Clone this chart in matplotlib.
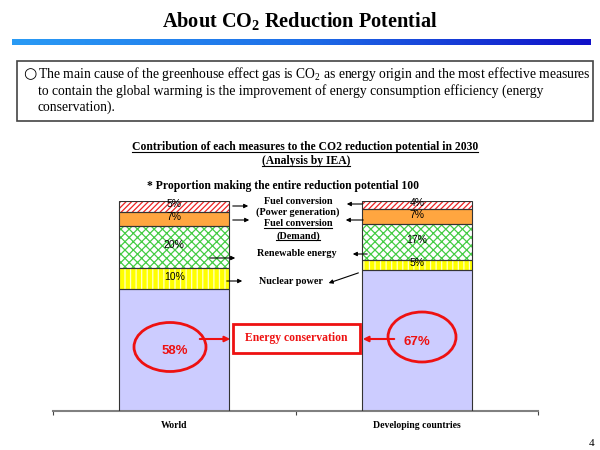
import matplotlib.pyplot as plt
import numpy as np
from matplotlib.patches import Rectangle, Ellipse
from matplotlib.lines import Line2D
from matplotlib.colors import LinearSegmentedColormap

plt.rcParams['font.family'] = ['Liberation Serif', 'DejaVu Serif']
plt.rcParams['mathtext.fontset'] = 'custom'
plt.rcParams['mathtext.rm'] = 'Liberation Serif'
plt.rcParams['mathtext.bf'] = 'Liberation Serif:bold'
plt.rcParams['hatch.linewidth'] = 0.9

categories = ["World", "Developing countries"]
measures = ["Energy conservation", "Nuclear power", "Renewable energy",
            "Fuel conversion (Demand)", "Fuel conversion (Power generation)"]
world = [58, 10, 20, 7, 5]
developing = [67, 5, 17, 7, 4]

# fill, hatch colour, hatch for each measure
styles = [("#CCCCFF", "#CCCCFF", ""),
          ("#FFFF00", "#FFFFC8", "|||"),
          ("white", "#44CC44", "xxxx"),
          ("#FFA640", "#FFA640", ""),
          ("white", "#EE2222", "//////")]

fig = plt.figure(figsize=(6, 4.5), dpi=100)

# bar chart axes
ax = fig.add_axes([53 / 600, 1 - 411 / 450, 485 / 600, 210 / 450])
x = np.arange(len(categories))
width = 0.455
data = np.array([world, developing]).T
bottom = np.zeros(len(categories))
for i, vals in enumerate(data):
    face, hcol, hatch = styles[i]
    ax.bar(x, vals, width, bottom=bottom, color=face, edgecolor=hcol,
           hatch=hatch, linewidth=0, zorder=2)
    ax.bar(x, vals, width, bottom=bottom, fill=False, edgecolor="#333333",
           linewidth=0.8, zorder=3)
    if i > 0:
        for xi, v, b in zip(x, vals, bottom):
            ax.text(xi, b + v / 2 + 1, f"{v}%", ha="center", va="center",
                    fontsize=7.5, family="Liberation Sans", zorder=4)
    bottom += vals

ax.set_xlim(-0.5, 1.5)
ax.set_ylim(0, 100)
for s in ["top", "right", "left"]:
    ax.spines[s].set_visible(False)
ax.spines["bottom"].set_color("#808080")
ax.spines["bottom"].set_linewidth(1.5)
ax.set_yticks([])
ax.set_xticks([-0.5, 0.5, 1.5])
ax.set_xticklabels([])
ax.tick_params(axis="x", length=3, direction="out", color="#444444")
for xi, c in zip(x, categories):
    ax.text(xi, -7, c, ha="center", va="center", fontsize=7,
            fontweight="bold", clip_on=False)

# overlay in pixel coordinates
ov = fig.add_axes([0, 0, 1, 1], zorder=5)
ov.patch.set_alpha(0)

# title and gradient rule
ov.text(300, 22, r"About CO$_\mathbf{2}$ Reduction Potential", ha="center",
        va="center", fontsize=14.6, fontweight="bold")
grad = np.linspace(0, 1, 256).reshape(1, -1)
cmap = LinearSegmentedColormap.from_list("b", ["#2A9BF5", "#1E6FE8", "#1010C8"])
ov.imshow(grad, extent=[12, 591, 45, 39], aspect="auto", cmap=cmap, zorder=1)
ov.set_xlim(0, 600)
ov.set_ylim(450, 0)
ov.axis("off")

# text box
ov.add_patch(Rectangle((17, 61), 576, 60, fill=False, edgecolor="#444444",
                       linewidth=1.2))
ov.text(23, 74, "○", ha="left", va="center", fontsize=11,
        family=["DejaVu Sans"])
body = dict(ha="left", va="center", fontsize=9.8)
ov.text(38, 74, r"The main cause of the greenhouse effect gas is CO$_2$ as energy "
        "origin and the most effective measures", **body)
ov.text(38, 91, "to contain the global warming is the improvement of energy "
        "consumption efficiency (energy", **body)
ov.text(38, 107, "conservation).", **body)

# chart titles
underlined = []
underlined.append(ov.text(305, 147, "Contribution of each measures to the CO2 "
                          "reduction potential in 2030", ha="center",
                          va="center", fontsize=8.4, fontweight="bold"))
underlined.append(ov.text(306, 161, "(Analysis by IEA)", ha="center",
                          va="center", fontsize=8.4, fontweight="bold"))
ov.text(147, 186, "* Proportion making the entire reduction potential 100",
        ha="left", va="center", fontsize=8.4, fontweight="bold")

# measure labels
lab = dict(ha="center", va="center", fontsize=7.3, fontweight="bold")
ov.text(298, 201, "Fuel conversion", **lab)
ov.text(298, 212, "(Power generation)", **lab)
underlined.append(ov.text(298, 224, "Fuel conversion", **lab))
underlined.append(ov.text(298, 236, "(Demand)", **lab))
ov.text(297, 253, "Renewable energy", **lab)
ov.text(291, 281, "Nuclear power", **lab)

arr = dict(arrowstyle="-|>", color="black", lw=0.8, mutation_scale=6)
for (x0, y0, x1, y1) in [(230, 206, 251, 206), (230, 220, 252, 220),
                         (207, 258, 238, 258), (224, 281, 245, 281),
                         (365, 204, 344, 204), (366, 220, 343, 220),
                         (370, 254, 350, 254), (361, 272, 326, 284)]:
    ov.annotate("", xy=(x1, y1), xytext=(x0, y0), arrowprops=arr)

# energy conservation callout
ov.add_patch(Rectangle((233, 324), 127, 29, fill=True, facecolor="white",
                       edgecolor="#EE1111", linewidth=2))
ov.text(296, 338, measures[0], ha="center", va="center", fontsize=8.4,
        fontweight="bold", color="#EE1111")
ov.add_patch(Ellipse((170, 347), 72, 49, fill=False, edgecolor="#EE1111",
                     linewidth=2))
ov.add_patch(Ellipse((422, 337), 68, 50, fill=False, edgecolor="#EE1111",
                     linewidth=2))
ov.text(175, 351, f"{world[0]}%", ha="center", va="center", fontsize=9.5,
        fontweight="bold", color="#EE1111", family="Liberation Sans")
ov.text(417, 342, f"{developing[0]}%", ha="center", va="center", fontsize=9.5,
        fontweight="bold", color="#EE1111", family="Liberation Sans")
red_arr = dict(arrowstyle="-|>", color="#EE1111", lw=1.5, mutation_scale=8)
ov.annotate("", xy=(233, 339), xytext=(197, 339), arrowprops=red_arr)
ov.annotate("", xy=(360, 339), xytext=(397, 339), arrowprops=red_arr)

ov.text(592, 443, "4", ha="center", va="center", fontsize=8)

# underline texts
fig.canvas.draw()
r = fig.canvas.get_renderer()
for t in underlined:
    bb = t.get_window_extent(r)
    y = bb.y0 + 1
    fig.add_artist(Line2D([bb.x0 / 600, bb.x1 / 600], [y / 450, y / 450],
                          color="black", lw=0.8, transform=fig.transFigure))

fig.savefig("out.png", dpi=100)
